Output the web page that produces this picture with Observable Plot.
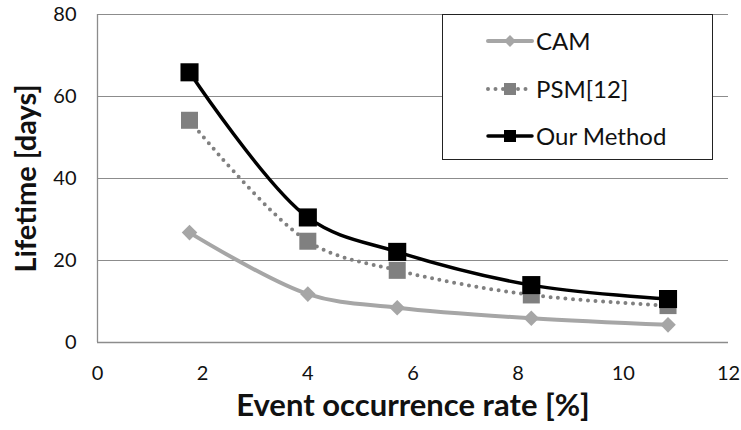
<!DOCTYPE html>
<html><head><meta charset="utf-8">
<script src="https://cdn.jsdelivr.net/npm/d3@7"></script>
<script src="https://cdn.jsdelivr.net/npm/@observablehq/plot@0.6"></script>
<style>
body{margin:0;background:#fff;}
#wrap{position:relative;width:741px;height:430px;font-family:Lato,"Open Sans",sans-serif;}
#legend{position:absolute;left:442px;top:14px;width:271px;height:146px;background:#fff;border:1.3px solid #222;box-sizing:border-box;}
.item{position:absolute;left:42px;display:flex;align-items:center;font-size:24px;color:#111;}
.item svg{margin-right:1px;}
</style></head>
<body><div id="wrap"><div id="legend"></div></div>
<script>
const rates = [1.75, 4.0, 5.7, 8.25, 10.85];
const cam = [26.8, 11.8, 8.5, 5.9, 4.3];
const psm = [54.2, 24.7, 17.6, 11.6, 9.0];
const ours = [65.9, 30.5, 22.1, 14.0, 10.6];
const seriesNames = ["CAM", "PSM[12]", "Our Method"];
const xTicks = [0, 2, 4, 6, 8, 10, 12];
const yTicks = [0, 20, 40, 60, 80];

const styles = {
  "CAM": {stroke: "#a6a6a6", width: 4, dash: null, symbol: "diamond2", r: 7, fill: "#a6a6a6"},
  "PSM[12]": {stroke: "#808080", width: 4, dash: "0 7.5", symbol: "square", r: 9.6, fill: "#808080"},
  "Our Method": {stroke: "#000", width: 3.5, dash: null, symbol: "square", r: 10.2, fill: "#000"}
};
const values = {"CAM": cam, "PSM[12]": psm, "Our Method": ours};
const data = seriesNames.flatMap(s => rates.map((x, i) => ({series: s, x, y: values[s][i]})));

const marks = [
  Plot.ruleY(yTicks.filter(d => d > 0), {stroke: "#8c8c8c", strokeWidth: 1.2, strokeOpacity: 1}),
  Plot.ruleY([0], {stroke: "#8c8c8c", strokeWidth: 1.3}),
  Plot.ruleX([0], {stroke: "#8c8c8c", strokeWidth: 1.3})
];
for (const s of seriesNames) {
  const st = styles[s];
  const d = data.filter(p => p.series === s);
  marks.push(Plot.line(d, {x: "x", y: "y", stroke: st.stroke, strokeWidth: st.width, strokeDasharray: st.dash, strokeLinecap: "round", curve: "catmull-rom"}));
}
for (const s of seriesNames) {
  const st = styles[s];
  const d = data.filter(p => p.series === s);
  marks.push(Plot.dot(d, {x: "x", y: "y", symbol: () => st.symbol, fill: st.fill, stroke: "none", r: st.r}));
}

const chart = Plot.plot({
  width: 741, height: 430,
  marginLeft: 97, marginRight: 13, marginTop: 14, marginBottom: 88,
  style: {fontFamily: "Lato, 'Open Sans', sans-serif", fontSize: "20px", color: "#111", background: "#fff"},
  x: {domain: [0, 12], ticks: xTicks, tickSize: 0, label: null},
  y: {domain: [0, 80], ticks: yTicks, tickSize: 0, label: null},
  symbol: {type: "identity"},
  marks: [
    ...marks,
    Plot.axisX({ticks: xTicks, tickSize: 0, tickPadding: 23, fontSize: 20}),
    Plot.axisY({ticks: yTicks, tickSize: 0, tickPadding: 21, fontSize: 20}),
    Plot.text(["Event occurrence rate [%]"], {frameAnchor: "bottom", dy: 73, fontSize: 31, fontWeight: "bold", text: d => d, fill: "#111"}),
    Plot.text(["Lifetime [days]"], {frameAnchor: "left", textAnchor: "middle", dx: -71, dy: 0, rotate: -90, fontSize: 29, fontWeight: "bold", text: d => d, fill: "#111"})
  ]
});
document.getElementById("wrap").prepend(chart);
chart.style.position = "absolute"; chart.style.left = "0"; chart.style.top = "0";

const legend = document.getElementById("legend");
const tops = [26, 74, 121];
seriesNames.forEach((s, i) => {
  const st = styles[s];
  const div = document.createElement("div");
  div.className = "item";
  div.style.top = (tops[i] - 15) + "px";
  const svg = d3.create("svg").attr("width", 50).attr("height", 28);
  svg.append("line").attr("x1", 3).attr("x2", 47).attr("y1", 14).attr("y2", 14)
    .attr("stroke", st.stroke).attr("stroke-width", st.width)
    .attr("stroke-dasharray", st.dash).attr("stroke-linecap", "round");
  const sym = st.symbol === "square" ? d3.symbolSquare : d3.symbolDiamond2;
  svg.append("path").attr("transform", "translate(25,14)")
    .attr("d", d3.symbol(sym, st.symbol === "square" ? 144 : 90)()).attr("fill", st.fill);
  div.appendChild(svg.node());
  const t = document.createElement("span"); t.textContent = s;
  div.appendChild(t);
  legend.appendChild(div);
});
</script></body></html>
